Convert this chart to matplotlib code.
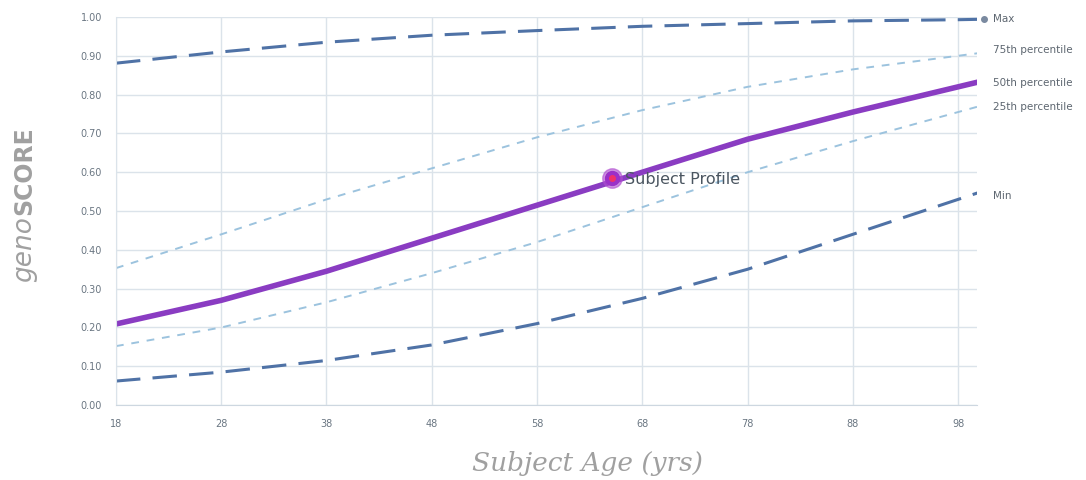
import matplotlib.pyplot as plt
import numpy as np

ages = [18, 28, 38, 48, 58, 68, 78, 88, 98, 100]
p_max = [0.881, 0.910, 0.935, 0.953, 0.965, 0.976, 0.983, 0.990, 0.993, 0.994]
p75 = [0.353, 0.440, 0.530, 0.610, 0.690, 0.760, 0.820, 0.865, 0.900, 0.907]
p50 = [0.209, 0.270, 0.345, 0.430, 0.515, 0.600, 0.685, 0.755, 0.820, 0.833]
p25 = [0.152, 0.200, 0.265, 0.340, 0.420, 0.510, 0.600, 0.680, 0.755, 0.770]
p_min = [0.062, 0.085, 0.115, 0.155, 0.210, 0.275, 0.350, 0.440, 0.530, 0.548]

subject_age = 65.1
subject_score = 0.585

xticks = [18, 28, 38, 48, 58, 68, 78, 88, 98]
yticks = np.round(np.arange(0, 1.01, 0.1), 2)

fig = plt.figure(figsize=(10.86, 4.8), dpi=100)
ax = fig.add_axes([0.1068, 0.156, 0.7928, 0.8086])

dark = "#4f72a6"
light = "#9cc3de"
purple = "#8a3cc2"
grid = "#dbe3ea"

ax.plot(ages, p_max, color=dark, lw=2.2, dashes=(8, 4))
ax.plot(ages, p75, color=light, lw=1.4, dashes=(4, 4))
ax.plot(ages, p50, color=purple, lw=4, solid_capstyle="butt")
ax.plot(ages, p25, color=light, lw=1.4, dashes=(4, 4))
ax.plot(ages, p_min, color=dark, lw=2.2, dashes=(8, 4))

ax.plot([ages[-1] + 0.5], [p_max[-1]], "o", color="#7a8aa0", ms=4, clip_on=False)

ax.plot([subject_age], [subject_score], "o", color="#b04cd0", ms=14, alpha=0.6, zorder=5)
ax.plot([subject_age], [subject_score], "o", color="#9b30c8", ms=10, zorder=6)
ax.plot([subject_age], [subject_score], "o", color="#f0306a", ms=4, zorder=7)
ax.text(subject_age + 1.3, subject_score - 0.003, "Subject Profile", fontsize=11.5,
        color="#4a5560", va="center", ha="left")

label_x = 101.3
tc = "#5d6670"
ax.text(label_x, p_max[-1], "Max", fontsize=7.5, color=tc, va="center")
ax.text(label_x, 0.915, "75th percentile", fontsize=7.5, color=tc, va="center")
ax.text(label_x, 0.830, "50th percentile", fontsize=7.5, color=tc, va="center")
ax.text(label_x, 0.768, "25th percentile", fontsize=7.5, color=tc, va="center")
ax.text(label_x, 0.540, "Min", fontsize=7.5, color=tc, va="center")

ax.set_xlim(18, 99.8)
ax.set_ylim(0, 1.0)
ax.set_xticks(xticks)
ax.set_yticks(yticks)
ax.set_yticklabels(["%.2f" % v for v in yticks])
ax.tick_params(length=0, labelsize=7, colors="#6a7682", pad=10)
ax.grid(True, color=grid, lw=1)
ax.set_axisbelow(True)
for s in ["top", "right"]:
    ax.spines[s].set_visible(False)
ax.spines["left"].set_color(grid)
ax.spines["bottom"].set_color("#cdd7e0")

fig.text(0.541, 0.035, "Subject Age (yrs)", fontsize=19, style="italic",
         color="#a0a0a0", family="DejaVu Serif", ha="center", va="center")
# y label: italic "geno" followed by bold "SCORE", rotated
fig.text(0.022, 0.550, "geno", fontsize=19, style="italic", color="#a0a0a0",
         rotation=90, rotation_mode="anchor", ha="right", va="center")
fig.text(0.022, 0.553, "SCORE", fontsize=17, weight="bold", color="#a0a0a0",
         rotation=90, rotation_mode="anchor", ha="left", va="center")

fig.savefig("out.png", dpi=100)
